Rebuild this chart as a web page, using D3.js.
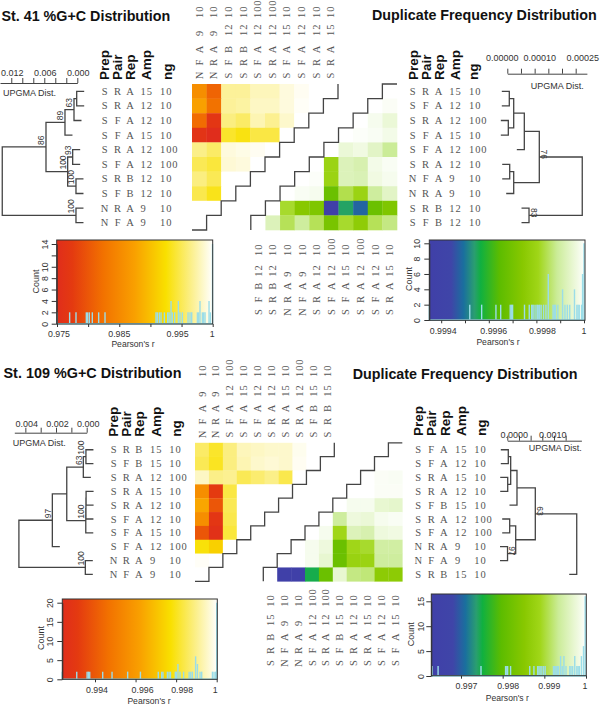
<!DOCTYPE html>
<html>
<head>
<meta charset="utf-8">
<script src="https://cdnjs.cloudflare.com/ajax/libs/d3/7.8.5/d3.min.js"></script>
<style>
	body { margin: 0; background: #fff; }
	text { font-family: "Liberation Sans", Arial, sans-serif; fill: #333; }
	.mono { font-family: "Liberation Serif", serif; font-size: 10.5px; letter-spacing: 0.9px; fill: #555; }
	.head { font-weight: bold; font-size: 13.5px; fill: #111; }
	.title { font-weight: bold; fill: #111; }
</style>
</head>
<body>
<svg id="chart" width="600" height="706"></svg>
<script>
var fieldNames = ['Prep', 'Pair', 'Rep', 'Amp', 'ng'];

// sample labels, top row of each matrix first
var labels41Gc = ['S R A 15 10', 'S R A 12 10', 'S F A 12 10', 'S F A 15 10', 'S R A 12 100', 'S F A 12 100', 'S R B 12 10', 'S F B 12 10', 'N R A 9 10', 'N F A 9 10'];
var labels41Dup = ['S R A 15 10', 'S F A 12 10', 'S R A 12 100', 'S F A 15 10', 'S F A 12 100', 'S R A 12 10', 'N F A 9 10', 'N R A 9 10', 'S R B 12 10', 'S F B 12 10'];
var labels109Gc = ['S R B 15 10', 'S F B 15 10', 'S R A 12 100', 'S R A 15 10', 'S R A 12 10', 'S F A 12 10', 'S F A 15 10', 'S F A 12 100', 'N R A 9 10', 'N F A 9 10'];
var labels109Dup = ['S F A 15 10', 'S F A 12 10', 'S R A 15 10', 'S R A 12 10', 'S F B 15 10', 'S R A 12 100', 'S F A 12 100', 'N R A 9 10', 'N F A 9 10', 'S R B 15 10'];

// matrix cells as a position along the colour key, 0 = left end, 100 = white end
// %G+C rows start at column 0, duplicate rows end at column 9
var cells41Gc = [
	[42, 25, 88, 88, 92, 92, 96, 98.5, 100, 100],
	[50, 30, 88, 89, 93, 93, 96, 99, 100],
	[28, 7, 85, 82, 91, 87, 94, 100],
	[5, 0, 75, 72, 78, 78, 100],
	[86, 82, 96, 97, 98.5, 100],
	[80, 77, 95, 96, 100],
	[85, 80, 100, 100],
	[79, 73, 100],
	[100, 100],
	[100]
];
var cells41Dup = [
	[100],
	[100, 98.5],
	[100, 97, 93],
	[100, 99, 98, 96],
	[100, 93, 95, 90, 82],
	[100, 68, 88, 86, 96, 98],
	[100, 99, 68, 88, 87, 95, 97],
	[100, 98, 97, 50, 75, 68, 83, 90],
	[100, 72, 60, 57, 0, 30, 20, 50, 57],
	[100, 88, 76, 83, 76, 55, 72, 63, 76, 80]
];
var cells109Gc = [
	[82, 75, 85, 92, 93, 94, 94, 98, 100, 100],
	[80, 74, 85, 91, 94, 95, 94, 98.5, 100],
	[93, 86, 87, 80, 83, 86, 79, 100],
	[42, 10, 78, 100, 100, 100, 100],
	[52, 20, 80, 100, 100, 100],
	[42, 7, 79, 100, 100],
	[20, 3, 77, 100],
	[71, 65, 100],
	[99, 100],
	[100]
];
var cells109Dup = [
	[100],
	[100, 100],
	[100, 98.5, 98],
	[100, 100, 98.5, 98.5],
	[100, 97, 97, 92, 91],
	[100, 83, 94, 93, 97, 98],
	[100, 97, 70, 88, 86, 94, 95],
	[100, 97, 94, 50, 70, 72, 84, 84],
	[100, 100, 97, 92, 50, 67, 68, 83, 83],
	[100, 0, 0, 32, 50, 92, 80, 79, 62, 62]
];

// UPGMA merges: [a, b, distance, support]. negative = leaf row, positive = earlier merge (1 based)
var tree41Gc = [
	[-1, -2, 0.00011, 0], [1, -3, 0.0006, 63], [2, -4, 0.00224, 89], [-5, -6, 0.00084, 93],
	[-7, -8, 0.00024, 100], [4, 5, 0.00175, 100], [3, 6, 0.00569, 86], [-9, -10, 0.00024, 100], [7, 8, 0.01364, 0]
];
var tree41Dup = [
	[-1, -2, 0.0000073, 0], [-3, -4, 0.0000037, 0], [1, 2, 0.0000234, 0], [3, -5, 0.0000622, 0],
	[-6, -7, 0.0000088, 0], [5, -8, 0.0000234, 0], [4, 6, 0.000117, 76], [-9, -10, 0.0000794, 83], [7, 8, 0.000274, 0]
];
var tree109Gc = [
	[-1, -2, 0.00005, 100], [1, -3, 0.00022, 63], [-4, -5, 0.00004, 0], [3, -6, 0.00005, 0], [4, -7, 0.00006, 100],
	[2, 5, 0.0013, 0], [6, -8, 0.00224, 97], [-9, -10, 0.00009, 100], [7, 8, 0.00442, 0]
];
var tree109Dup = [
	[-1, -2, 0.000017, 0], [-3, -4, 0.000007, 0], [1, 2, 0.000058, 0], [3, -5, 0.000166, 0],
	[-6, -7, 0.000041, 0], [-8, -9, 0.000004, 97], [5, 6, 0.000144, 0], [4, 7, 0.00048, 63], [8, -10, 0.00119, 0]
];

// histogram of Pearson's r under each colour key
var hist41GcR = [0.975, 0.97703, 0.97805, 0.97971, 0.97992, 0.98019, 0.98067, 0.98169, 0.98271, 0.9909, 0.99111, 0.99143, 0.9917, 0.99224, 0.99277, 0.99299, 0.99331, 0.99352, 0.9939, 0.99449, 0.99475, 0.99513, 0.99604, 0.99636, 0.99663, 0.99754, 0.99775, 0.99796, 0.99834, 0.99855, 0.99877, 0.99941, 0.99962, 0.99997];
var hist41GcN = [2, 2, 2, 2, 2, 2, 2, 2, 2, 2, 2, 2, 2, 2, 2, 2, 4, 2, 2, 4, 2, 2, 2, 2, 2, 2, 2, 4, 2, 2, 2, 4, 2, 14];
var hist41DupR = [0.99935, 0.99952, 0.99957, 0.99963, 0.99965, 0.99969, 0.999695, 0.9997, 0.99975, 0.99977, 0.99978, 0.999785, 0.99979, 0.999798, 0.999804, 0.99981, 0.999814, 0.99982, 0.99983, 0.99984, 0.99985, 0.99987, 0.999875, 0.99988, 0.99989, 0.99991, 0.99992, 0.99993, 0.99994, 0.99996, 0.99997, 0.999975, 0.99998, 0.99999, 0.999994, 1];
var hist41DupN = [2, 2, 2, 2, 2, 2, 2, 2, 2, 2, 2, 2, 2, 2, 2, 2, 2, 2, 2, 2, 6, 2, 2, 2, 2, 4, 2, 2, 2, 4, 2, 2, 2, 2, 6, 10];
var hist109GcR = [0.99238, 0.9931, 0.99361, 0.99367, 0.99374, 0.99438, 0.99484, 0.99561, 0.99624, 0.99712, 0.99729, 0.99735, 0.99757, 0.99765, 0.99772, 0.99796, 0.99801, 0.99809, 0.99819, 0.99837, 0.99864, 0.99872, 0.9988, 0.99896, 0.99905, 0.99918, 0.99926, 0.99979, 0.99987, 0.99995, 1];
var hist109GcN = [2, 2, 2, 2, 2, 2, 2, 2, 2, 2, 2, 2, 2, 2, 2, 2, 2, 4, 2, 2, 2, 2, 2, 6, 4, 2, 2, 2, 2, 2, 20];
var hist109DupR = [0.99631, 0.99645, 0.99748, 0.99807, 0.9981, 0.99812, 0.99819, 0.99865, 0.99875, 0.99884, 0.99887, 0.9989, 0.99894, 0.99898, 0.99902, 0.99922, 0.99925, 0.99928, 0.99931, 0.99934, 0.99939, 0.99943, 0.99947, 0.99952, 0.99961, 0.99964, 0.99968, 0.99973, 0.99978, 0.99981, 0.99984, 0.99989, 0.99994, 0.99998];
var hist109DupN = [2, 2, 2, 2, 2, 2, 2, 2, 2, 2, 2, 2, 2, 2, 2, 2, 2, 2, 2, 2, 4, 2, 4, 2, 2, 2, 2, 4, 2, 2, 2, 4, 6, 16];

// colour keys
var gcStops = [[0, '#e02d1c'], [10, '#e43a10'], [30, '#f27200'], [50, '#f9a000'], [70, '#f9e000'], [85, '#fbee80'], [100, '#ffffff']];
var dupStops = [[0, '#4040a8'], [14, '#3f45a8'], [22, '#1a6f9e'], [29, '#2a9e70'], [33, '#10b040'], [45, '#5cbc00'], [60, '#88c800'], [70, '#a0d618'], [82, '#cbec98'], [100, '#ffffff']];
var gcColor = d3.scaleLinear().domain(gcStops.map(function(s){ return s[0]; })).range(gcStops.map(function(s){ return s[1]; }));
var dupColor = d3.scaleLinear().domain(dupStops.map(function(s){ return s[0]; })).range(dupStops.map(function(s){ return s[1]; }));

var svg = d3.select('#chart');
var ink = '#444';

var defs = svg.append('defs');
function makeGradient(id, stops){
	var grad = defs.append('linearGradient').attr('id', id);
	grad.selectAll('stop').data(stops).enter().append('stop')
		.attr('offset', function(d){ return d[0] + '%'; })
		.attr('stop-color', function(d){ return d[1]; });
}
makeGradient('gcKey', gcStops);
makeGradient('dupKey', dupStops);

function drawTitle(text, x, y, size){
	svg.append('text').attr('class', 'title').attr('x', x).attr('y', y).attr('font-size', size).text(text);
}

function drawMatrix(m, cells, color, isGc){
	var x = d3.scaleBand().domain(d3.range(10)).range([m.x0, m.x0 + m.size * 10]);
	var y = d3.scaleBand().domain(d3.range(10)).range([m.y0, m.y0 + m.rowH * 10]);
	var w = x.bandwidth(), h = y.bandwidth();
	var flat = [];
	cells.forEach(function(row, i){
		row.forEach(function(v, k){
			flat.push({ row: i, col: isGc ? k : 10 - row.length + k, v: v });
		});
	});
	svg.append('g').selectAll('rect').data(flat).enter().append('rect')
		.attr('x', function(d){ return x(d.col); })
		.attr('y', function(d){ return y(d.row); })
		.attr('width', w + 0.3)
		.attr('height', h + 0.3)
		.attr('fill', function(d){ return color(d.v); });

	// staircase along the diagonal
	var p = d3.path();
	d3.range(10).forEach(function(i){
		if(isGc){
			var right = x(9 - i) + w;
			if(i == 0) p.moveTo(right, y(0));
			p.lineTo(right, y(i) + h);
			p.lineTo(right - w, y(i) + h);
		} else {
			var left = x(9 - i);
			if(i == 0) p.moveTo(left + w, y(0));
			p.lineTo(left, y(i));
			p.lineTo(left, y(i) + h);
		}
	});
	svg.append('path').attr('d', p.toString()).attr('fill', 'none').attr('stroke', ink).attr('stroke-width', 1.3);
	return { x: x, y: y };
}

function drawRowLabels(labels, y, fx, headX, headY){
	var g = svg.append('g');
	labels.forEach(function(label, i){
		label.split(' ').forEach(function(part, k){
			g.append('text').attr('class', 'mono')
				.attr('x', fx[k]).attr('y', y(i) + y.bandwidth() / 2).attr('dy', '0.34em')
				.attr('text-anchor', k < 3 ? 'middle' : 'start')
				.text(part);
		});
	});
	fieldNames.forEach(function(name, k){
		g.append('text').attr('class', 'head')
			.attr('transform', 'translate(' + headX[k] + ',' + headY + ') rotate(-90)')
			.attr('dy', '0.36em')
			.text(name);
	});
}

function drawColLabels(labels, x, fy){
	var g = svg.append('g');
	labels.forEach(function(label, i){
		label.split(' ').forEach(function(part, k){
			g.append('text').attr('class', 'mono')
				.attr('transform', 'translate(' + (x(i) + x.bandwidth() / 2) + ',' + fy[k] + ') rotate(-90)')
				.attr('dy', '0.34em')
				.attr('text-anchor', k < 3 ? 'middle' : 'start')
				.text(part);
		});
	});
}

function drawTree(merges, y, scale, hang){
	var left = hang > 0;
	var nodes = [];
	var p = d3.path();
	var g = svg.append('g');
	function childPos(c, nx){
		if(c < 0){
			var i = -c - 1;
			return { x: nx + hang, y: y(i) + y.bandwidth() / 2 };
		}
		return nodes[c - 1];
	}
	merges.forEach(function(m){
		var nx = scale(m[2]);
		var a = childPos(m[0], nx), b = childPos(m[1], nx);
		p.moveTo(a.x, a.y); p.lineTo(nx, a.y); p.lineTo(nx, b.y); p.lineTo(b.x, b.y);
		var ny = (a.y + b.y) / 2;
		nodes.push({ x: nx, y: ny });
		if(m[3] > 0){
			g.append('text')
				.attr('font-size', 8.5)
				.attr('text-anchor', left ? 'start' : 'end')
				.attr('transform', left
					? 'translate(' + (nx - 1.5) + ',' + (ny - 2) + ') rotate(-90)'
					: 'translate(' + (nx + 1.5) + ',' + (ny + 2) + ') rotate(90)')
				.text(m[3]);
		}
	});
	g.append('path').attr('d', p.toString()).attr('fill', 'none').attr('stroke', ink).attr('stroke-width', 1.3);
}

function drawScaleBar(s){
	var axis = d3.axisTop(s.scale).tickValues(s.ticks).tickSize(5).tickSizeOuter(0).tickFormat('');
	var g = svg.append('g').attr('transform', 'translate(0,' + s.y + ')').call(axis);
	g.selectAll('path, line').attr('stroke', ink).attr('stroke-width', 1);
	s.labels.forEach(function(l){
		svg.append('text').attr('font-size', 9).attr('text-anchor', 'middle')
			.attr('x', s.scale(l[0]) + l[2]).attr('y', s.labelY)
			.text(l[1]);
	});
	svg.append('text').attr('font-size', 9).attr('x', s.nameX).attr('y', s.nameY).text('UPGMA Dist.');
}

function drawKey(k){
	var x = d3.scaleLinear().domain([k.rMin, 1]).range([k.x(k.rMin), k.x(1)]);
	var y = d3.scaleLinear().domain([0, k.yMax]).range([k.y0, k.yTop]);
	var g = svg.append('g');
	g.append('rect').attr('x', k.left).attr('y', k.top).attr('width', k.right - k.left).attr('height', k.bottom - k.top)
		.attr('fill', 'url(#' + k.grad + ')');
	g.selectAll('line.bar').data(k.r).enter().append('line').attr('class', 'bar')
		.attr('x1', function(d){ return x(d); })
		.attr('x2', function(d){ return x(d); })
		.attr('y1', y(0))
		.attr('y2', function(d, i){ return y(k.n[i]); })
		.attr('stroke', '#9bdde8').attr('stroke-width', 1.4);
	g.append('line').attr('x1', k.left).attr('x2', k.right).attr('y1', y(0)).attr('y2', y(0))
		.attr('stroke', '#9bdde8').attr('stroke-width', 1.5);
	g.append('rect').attr('x', k.left).attr('y', k.top).attr('width', k.right - k.left).attr('height', k.bottom - k.top)
		.attr('fill', 'none').attr('stroke', '#333').attr('stroke-width', 1);

	var xAxis = d3.axisBottom(x).tickValues(k.xTicks).tickSize(3).tickSizeOuter(0).tickFormat('');
	var gx = svg.append('g').attr('transform', 'translate(0,' + k.bottom + ')').call(xAxis);
	gx.selectAll('line').attr('stroke', '#333');
	gx.select('path').remove();
	k.xLabels.forEach(function(l){
		svg.append('text').attr('font-size', 8.8).attr('text-anchor', 'middle')
			.attr('x', x(l[0]) + l[2]).attr('y', k.tickLabelY)
			.text(l[1]);
	});

	var yAxis = d3.axisLeft(y).tickValues(k.yTicks).tickSize(5).tickSizeOuter(0)
		.tickFormat(function(d){ return k.yHide == d ? '' : d; });
	var gy = svg.append('g').attr('transform', 'translate(' + k.left + ',0)').call(yAxis);
	gy.selectAll('line').attr('stroke', '#333');
	gy.select('path').attr('stroke', '#333');
	gy.selectAll('text')
		.attr('font-size', 8.8)
		.attr('font-family', 'Liberation Sans')
		.attr('fill', '#333')
		.attr('x', 0).attr('dy', 0)
		.attr('text-anchor', 'middle')
		.attr('transform', 'translate(' + (-k.yLabelGap) + ',0) rotate(-90)');

	svg.append('text').attr('font-size', 9).attr('text-anchor', 'middle')
		.attr('transform', 'translate(' + k.countX + ',' + k.countY + ') rotate(-90)').text('Count');
	svg.append('text').attr('font-size', 8.6).attr('text-anchor', 'middle')
		.attr('x', k.nameX).attr('y', k.nameY).text("Pearson's r");
}

// ---- St. 41 ----
drawTitle('St. 41 %G+C Distribution', 1.5, 21, 14.3);
drawTitle('Duplicate Frequency Distribution', 372, 20, 14.3);

var m41Gc = drawMatrix({ x0: 192, y0: 84, size: 14.6, rowH: 14.6 }, cells41Gc, gcColor, true);
var m41Dup = drawMatrix({ x0: 250.8, y0: 84, size: 14.62, rowH: 14.6 }, cells41Dup, dupColor, false);
drawRowLabels(labels41Gc, m41Gc.y, [105, 118, 130.5, 140.5, 160], [104, 117.5, 130, 146, 167], 80);
drawRowLabels(labels41Dup, m41Dup.y, [413, 426, 439, 449.3, 469], [413, 426, 439, 455, 473], 80);
drawColLabels(labels41Gc.slice().reverse(), m41Gc.x, [75, 62, 49, 36, 18]);
drawColLabels(labels41Dup.slice().reverse(), m41Dup.x, [311.7, 299, 285.7, 276.7, 256]);

var sc41Gc = d3.scaleLinear().domain([0.01405, 0]).range([0, 77.3]);
drawTree(tree41Gc, m41Gc.y, sc41Gc, 7.5);
drawScaleBar({ scale: sc41Gc, y: 83, ticks: d3.range(0, 0.0121, 0.002), labels: [[0.012, '0.012', 1], [0.006, '0.006', 1], [0, '0.000', 1]], labelY: 76, nameX: 3, nameY: 96 });

var sc41Dup = d3.scaleLinear().domain([0, 0.000291]).range([507.3, 586.9]);
drawTree(tree41Dup, m41Dup.y, sc41Dup, -7.5);
drawScaleBar({ scale: sc41Dup, y: 73.7, ticks: d3.range(0, 0.000251, 0.00005), labels: [[0, '0.00000', -5], [0.0001, '0.00010', 5], [0.00025, '0.00025', 7]], labelY: 61, nameX: 530.7, nameY: 89 });

drawKey({
	x: d3.scaleLinear().domain([0.975, 1]).range([57, 212.7]), rMin: 0.975, grad: 'gcKey',
	left: 56.7, right: 212.7, top: 240, bottom: 324,
	y0: 323.7, yTop: 244, yMax: 14, yTicks: d3.range(0, 15, 2), yHide: 12, yLabelGap: 9,
	xTicks: [0.975, 0.98, 0.985, 0.99, 0.995, 1],
	xLabels: [[0.975, '0.975', 2], [0.985, '0.985', 0], [0.995, '0.995', -4], [1, '1', -0.5]], tickLabelY: 337,
	r: hist41GcR, n: hist41GcN, countX: 38.5, countY: 281.5, nameX: 133, nameY: 347
});
drawKey({
	x: d3.scaleLinear().domain([0.9994, 1]).range([441.2, 584]), rMin: 0.99935, grad: 'dupKey',
	left: 429.3, right: 585, top: 240, bottom: 320.3,
	y0: 320, yTop: 243.3, yMax: 10, yTicks: d3.range(0, 11, 2), yLabelGap: 9,
	xTicks: [0.9994, 0.9995, 0.9996, 0.9997, 0.9998, 0.9999, 1],
	xLabels: [[0.9994, '0.9994', 2], [0.9996, '0.9996', 5], [0.9998, '0.9998', 6], [1, '1', 0]], tickLabelY: 333.5,
	r: hist41DupR, n: hist41DupN, countX: 412, countY: 279, nameX: 498, nameY: 345
});

// ---- St. 109 ----
drawTitle('St. 109 %G+C Distribution', 3.5, 378, 14.4);
drawTitle('Duplicate Frequency Distribution', 352.7, 379, 14.3);

var m109Gc = drawMatrix({ x0: 195, y0: 442.8, size: 13.93, rowH: 13.85 }, cells109Gc, gcColor, true);
var m109Dup = drawMatrix({ x0: 263.3, y0: 442.8, size: 13.9, rowH: 13.85 }, cells109Dup, dupColor, false);
drawRowLabels(labels109Gc, m109Gc.y, [114, 126.7, 139.3, 150, 169.3], [112.7, 125.7, 139, 156, 176], 436.7);
drawRowLabels(labels109Dup, m109Dup.y, [418.7, 431.7, 444.3, 455, 474.3], [418.3, 431, 444.7, 461, 481], 436);
drawColLabels(labels109Gc.slice().reverse(), m109Gc.x, [434, 421, 408, 396.7, 377]);
drawColLabels(labels109Dup.slice().reverse(), m109Dup.x, [662.7, 650, 636.7, 626, 606.7]);

var sc109Gc = d3.scaleLinear().domain([0.00472, 0]).range([14.3, 86.7]);
drawTree(tree109Gc, m109Gc.y, sc109Gc, 7.5);
drawScaleBar({ scale: sc109Gc, y: 432.7, ticks: d3.range(0, 0.0041, 0.001), labels: [[0.004, '0.004', 1.5], [0.002, '0.002', 1.5], [0, '0.000', 1.5]], labelY: 427, nameX: 12.7, nameY: 446 });

var sc109Dup = d3.scaleLinear().domain([0, 0.00127]).range([507.3, 581.4]);
drawTree(tree109Dup, m109Dup.y, sc109Dup, -7.5);
drawScaleBar({ scale: sc109Dup, y: 440.7, ticks: d3.range(0, 0.00101, 0.0002), labels: [[0, '0.0000', 7], [0.001, '0.0010', -13]], labelY: 437.5, nameX: 528.7, nameY: 451 });

drawKey({
	x: d3.scaleLinear().domain([0.994, 1]).range([95, 216.7]), rMin: 0.99239, grad: 'gcKey',
	left: 62.3, right: 217.3, top: 599, bottom: 679.3,
	y0: 679.3, yTop: 602.7, yMax: 20, yTicks: d3.range(0, 21, 5), yLabelGap: 9,
	xTicks: [0.994, 0.996, 0.998, 1],
	xLabels: [[0.994, '0.994', 2], [0.996, '0.996', 7], [0.998, '0.998', 6], [1, '1', -1.5]], tickLabelY: 692.5,
	r: hist109GcR, n: hist109GcN, countX: 44, countY: 638, nameX: 149, nameY: 704
});
drawKey({
	x: d3.scaleLinear().domain([0.997, 1]).range([461, 586]), rMin: 0.99629, grad: 'dupKey',
	left: 431.3, right: 586.3, top: 594, bottom: 675.7,
	y0: 676, yTop: 601.3, yMax: 15, yTicks: d3.range(0, 16, 5), yLabelGap: 7,
	xTicks: [0.997, 0.998, 0.999, 1],
	xLabels: [[0.997, '0.997', 5.5], [0.998, '0.998', 5.5], [0.999, '0.999', 5], [1, '1', -1]], tickLabelY: 689,
	r: hist109DupR, n: hist109DupN, countX: 414, countY: 634.3, nameX: 507.3, nameY: 701
});
</script>
</body>
</html>
